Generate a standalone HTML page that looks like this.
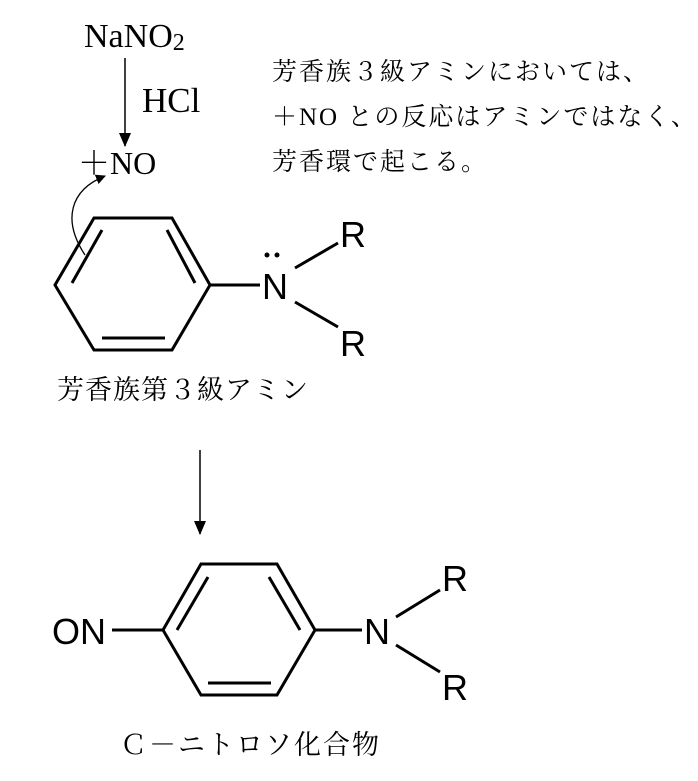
<!DOCTYPE html>
<html><head><meta charset="utf-8"><style>
body{margin:0;background:#fff;width:698px;height:781px;overflow:hidden}
svg{display:block}
.s{font-family:"Liberation Serif","Noto Serif CJK SC",serif}
.a{font-family:"Liberation Sans",sans-serif}
.j{font-family:"Liberation Serif","Noto Serif CJK SC",serif}
</style></head><body>
<svg width="698" height="781" viewBox="0 0 698 781" xmlns="http://www.w3.org/2000/svg">
<defs><marker id="ah" markerWidth="10" markerHeight="10" refX="9" refY="5" orient="auto" markerUnits="userSpaceOnUse"><path d="M0,0 L10,5 L0,10 z" fill="#000"/></marker>
<marker id="ah2" markerWidth="14" markerHeight="12" refX="13" refY="6" orient="auto" markerUnits="userSpaceOnUse"><path d="M0,0 L14,6 L0,12 z" fill="#000"/></marker></defs>
<text class="s" x="84" y="47" font-size="34">NaNO<tspan font-size="24" dy="3">2</tspan></text>
<line x1="125" y1="58" x2="125" y2="146" stroke="#000" stroke-width="1.5" marker-end="url(#ah2)"/>
<text class="s" x="142" y="112" font-size="35">HCl</text>
<text class="s" x="78" y="174" font-size="32">＋NO</text>
<path d="M85,255 C62,220 70,190 105,176" fill="none" stroke="#000" stroke-width="1.3" marker-end="url(#ah)"/>
<g fill="none" stroke="#000" stroke-width="3">
<polygon points="94,218 172,218 210,285 172,350 94,350 55,285"/>
<line x1="102" y1="230" x2="72" y2="283"/><line x1="167" y1="230" x2="195" y2="283"/><line x1="102" y1="338" x2="165" y2="338"/>
<line x1="210" y1="285" x2="260" y2="285"/>
<line x1="295" y1="268" x2="338" y2="243"/><line x1="295" y1="302" x2="338" y2="327"/>
<polygon points="201,564 277,564 315,630 277,695 201,695 163,630"/>
<line x1="208" y1="577" x2="177" y2="630"/><line x1="269" y1="577" x2="300" y2="630"/><line x1="208" y1="683" x2="271" y2="683"/>
<line x1="112" y1="630" x2="163" y2="630"/><line x1="315" y1="630" x2="362" y2="630"/>
<line x1="396" y1="617" x2="440" y2="590"/><line x1="396" y1="645" x2="440" y2="672"/>
</g>
<circle cx="267" cy="255" r="2.5"/><circle cx="277" cy="255" r="2.5"/>
<text class="a" x="262" y="299" font-size="36">N</text>
<text class="a" x="340" y="247" font-size="36">R</text>
<text class="a" x="340" y="356" font-size="36">R</text>
<text class="a" x="52" y="644" font-size="36">ON</text>
<text class="a" x="364" y="644" font-size="36">N</text>
<text class="a" x="442" y="591" font-size="36">R</text>
<text class="a" x="442" y="700" font-size="36">R</text>
<g class="j" font-size="25" letter-spacing="2">
<text x="272" y="80">芳香族３級アミンにおいては、</text>
<text x="272" y="125">＋NO との反応はアミンではなく、</text>
<text x="272" y="170">芳香環で起こる。</text>
</g>
<text class="j" x="57" y="399" font-size="27" letter-spacing="1">芳香族第３級アミン</text>
<text class="j" x="120" y="754" font-size="27" letter-spacing="2">Ｃ－ニトロソ化合物</text>
<line x1="200" y1="450" x2="200" y2="534" stroke="#000" stroke-width="1.5" marker-end="url(#ah2)"/>
</svg>
</body></html>
